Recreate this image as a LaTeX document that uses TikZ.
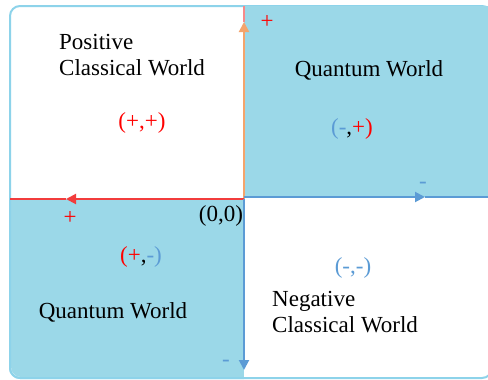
\documentclass[tikz,border=0pt]{standalone}
\usepackage{fontspec}
\setmainfont{Liberation Serif}
\usetikzlibrary{arrows.meta}
\definecolor{qblue}{HTML}{9BD8E8}
\definecolor{edgeblue}{HTML}{8DD3EA}
\definecolor{axblue}{HTML}{5B9BD5}
\definecolor{axorange}{HTML}{F4A46C}
\definecolor{axred}{HTML}{F23C3C}
\definecolor{txtred}{HTML}{FF0000}
\tikzset{
  lbl/.style={inner sep=0pt, font=\fontsize{23}{26}\selectfont, align=left},
  sgn/.style={inner sep=0pt, font=\fontsize{23}{26}\selectfont},
  axis/.style={line width=2pt},
  tip/.style={-{Triangle[length=10pt,width=10pt]}},
}
\begin{document}
\begin{tikzpicture}[x=1pt,y=-1pt]
\useasboundingbox (0,0) rectangle (488,380);
% frame and quadrants
\draw[edgeblue, line width=2pt, fill=white, rounded corners=10pt] (10,6) rectangle (492,378);
\fill[qblue] (244,6) rectangle (490,197);
\fill[qblue, rounded corners=10pt] (11,199) rectangle (244,377);
\fill[qblue] (21,199) rectangle (244,377);
\fill[qblue] (11,199) rectangle (244,209);
\draw[edgeblue, line width=2pt, rounded corners=10pt] (244,378) -- (10,378) -- (10,199);
% coordinates
\coordinate (O) at (244,199);
\coordinate (Otop) at (244,6);
\coordinate (Atop) at (244,22);
\coordinate (Oleft) at (10,199);
\coordinate (Aleft) at (66,199);
\coordinate (Oright) at (488,197);
\coordinate (Aright) at (425,197);
\coordinate (Oright0) at (244,197);
\coordinate (Obot) at (244,378);
\coordinate (Abot) at (244,370);
% axes
\draw[axis, axred!60] (Atop) -- (Otop);
\draw[axis, axorange, tip] (O) -- (Atop);
\draw[axis, axred, tip] (O) -- (Aleft);
\draw[axis, axred] (Aleft) -- (Oleft);
\draw[axis, axblue, tip] (Oright0) -- (Aright);
\draw[axis, axblue] (Aright) -- (Oright);
\draw[axis, axblue, tip] (O) -- (Abot);
% texts
\node[lbl, anchor=north west] (pcw) at (59,34) {Positive\\Classical World};
\node[lbl, anchor=base] (pp) at (142,128) {\color{txtred}(+,+)};
\node[lbl, anchor=base] (qw1) at (369,76) {Quantum World};
\node[lbl, anchor=base] (mp) at (352,134) {\color{axblue}(-\color{black},\color{txtred}+)};
\node[lbl, anchor=base] (pm) at (141,262) {\color{txtred}(+\color{black},\color{axblue}-)};
\node[lbl, anchor=base] (qw2) at (113,318) {Quantum World};
\node[lbl, anchor=base] (mm) at (353,273) {\color{axblue}(-,-)};
\node[lbl, anchor=north west] (ncw) at (272,291) {Negative\\Classical World};
\node[lbl, anchor=base] (zero) at (221,221) {(0,0)};
\node[sgn, txtred] (ptop) at (267,22) {+};
\node[sgn, txtred] (pleft) at (70,218) {+};
\node[sgn, axblue] (mright) at (423,185) {-};
\node[sgn, axblue] (mbot) at (226,363) {-};
\end{tikzpicture}
\end{document}
